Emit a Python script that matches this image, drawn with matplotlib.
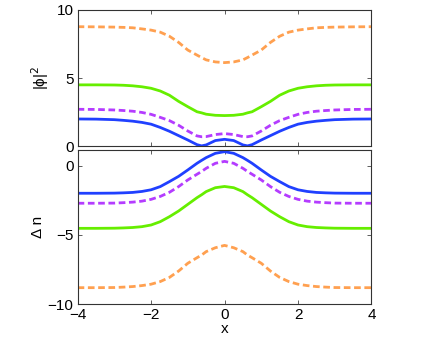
import numpy as np
import matplotlib
matplotlib.use("Agg")
import matplotlib.pyplot as plt

plt.rcParams['font.family'] = ['Liberation Sans', 'DejaVu Sans']

# sample positions
x = [-4, -3.5, -3, -2.75, -2.5, -2.25, -2, -1.75, -1.5, -1.25, -1, -0.75, -0.625, -0.5, -0.25, 0,
     0.25, 0.5, 0.625, 0.75, 1, 1.25, 1.5, 1.75, 2, 2.25, 2.5, 2.75, 3, 3.5, 4]

# |phi|^2 (top panel)
top_blue = [2.0, 1.99, 1.95, 1.90, 1.84, 1.75, 1.62, 1.38, 1.10, 0.78, 0.46, 0.12, 0.03, 0.10, 0.42, 0.51,
            0.42, 0.10, 0.03, 0.12, 0.46, 0.78, 1.10, 1.38, 1.62, 1.75, 1.84, 1.90, 1.95, 1.99, 2.0]
top_purple = [2.71, 2.70, 2.66, 2.62, 2.57, 2.48, 2.34, 2.12, 1.88, 1.54, 1.12, 0.76, 0.70, 0.71, 0.86, 0.93,
              0.86, 0.71, 0.70, 0.76, 1.12, 1.54, 1.88, 2.12, 2.34, 2.48, 2.57, 2.62, 2.66, 2.70, 2.71]
top_green = [4.5, 4.5, 4.49, 4.47, 4.43, 4.36, 4.25, 4.05, 3.74, 3.29, 2.90, 2.53, 2.45, 2.35, 2.27, 2.25,
             2.27, 2.35, 2.45, 2.53, 2.90, 3.29, 3.74, 4.05, 4.25, 4.36, 4.43, 4.47, 4.49, 4.5, 4.5]
top_orange = [8.76, 8.75, 8.73, 8.71, 8.68, 8.60, 8.51, 8.36, 8.06, 7.61, 7.05, 6.68, 6.50, 6.33, 6.18, 6.13,
              6.18, 6.33, 6.50, 6.68, 7.05, 7.61, 8.06, 8.36, 8.51, 8.60, 8.68, 8.71, 8.73, 8.75, 8.76]

# Delta n (bottom panel)
bot_blue = [-1.99, -1.99, -1.98, -1.96, -1.93, -1.86, -1.74, -1.51, -1.15, -0.77, -0.31, 0.17, 0.38, 0.58, 0.89, 1.01,
            0.89, 0.58, 0.38, 0.17, -0.31, -0.77, -1.15, -1.51, -1.74, -1.86, -1.93, -1.96, -1.98, -1.99, -1.99]
bot_purple = [-2.71, -2.71, -2.70, -2.67, -2.63, -2.56, -2.43, -2.22, -1.92, -1.51, -1.03, -0.62, -0.42, -0.19, 0.17, 0.31,
              0.17, -0.19, -0.42, -0.62, -1.03, -1.51, -1.92, -2.22, -2.43, -2.56, -2.63, -2.67, -2.70, -2.71, -2.71]
bot_green = [-4.52, -4.52, -4.51, -4.49, -4.46, -4.40, -4.28, -4.04, -3.68, -3.27, -2.79, -2.31, -2.10, -1.87, -1.59, -1.50,
             -1.59, -1.87, -2.10, -2.31, -2.79, -3.27, -3.68, -4.04, -4.28, -4.40, -4.46, -4.49, -4.51, -4.52, -4.52]
bot_orange = [-8.80, -8.80, -8.79, -8.76, -8.72, -8.65, -8.55, -8.36, -8.06, -7.60, -7.04, -6.64, -6.45, -6.20, -5.92, -5.75,
              -5.92, -6.20, -6.45, -6.64, -7.04, -7.60, -8.06, -8.36, -8.55, -8.65, -8.72, -8.76, -8.79, -8.80, -8.80]

xticks = [-4, -2, 0, 2, 4]
xticklabels = ["\u22124", "\u22122", "0", "2", "4"]
top_yticks = [0, 5, 10]
bot_yticks = [-10, -5, 0]
bot_yticklabels = ["\u221210", "\u22125", "0"]

c_blue = "#2040ff"
c_purple = "#b43cff"
c_green = "#66ee00"
c_orange = "#ffa050"
lw = 2.0
dash = (0, (2.4, 1.3))

fig = plt.figure(figsize=(4.36, 3.43), dpi=100)
ax1 = fig.add_axes([0.178, 0.5735, 0.674, 0.398])
ax2 = fig.add_axes([0.178, 0.1128, 0.674, 0.4507])

ax1.plot(x, top_orange, color=c_orange, lw=lw, linestyle=dash)
ax1.plot(x, top_green, color=c_green, lw=lw)
ax1.plot(x, top_purple, color=c_purple, lw=lw, linestyle=dash)
ax1.plot(x, top_blue, color=c_blue, lw=lw)

ax2.plot(x, bot_orange, color=c_orange, lw=lw, linestyle=dash)
ax2.plot(x, bot_green, color=c_green, lw=lw)
ax2.plot(x, bot_purple, color=c_purple, lw=lw, linestyle=dash)
ax2.plot(x, bot_blue, color=c_blue, lw=lw)

for ax in (ax1, ax2):
    ax.set_xlim(-4, 4)
    ax.set_xticks(xticks)
    ax.tick_params(direction="in", length=3, width=0.6, colors="#444444",
                   labelcolor="black", labelsize=11, top=True, right=True, pad=3)
    for s in ax.spines.values():
        s.set_color("#333333")
        s.set_linewidth(0.8)

ax1.set_ylim(0, 10)
ax1.set_yticks(top_yticks)
ax1.set_xticklabels([])
ax1.set_ylabel("|\u03d5|$^2$", fontsize=11, labelpad=4)

ax2.set_ylim(-10, 1.15)
ax2.set_yticks(bot_yticks)
ax2.set_yticklabels(bot_yticklabels)
ax2.set_xticklabels(xticklabels)
ax2.set_ylabel("\u0394 n", fontsize=11, labelpad=2)
ax2.set_xlabel("x", fontsize=11, labelpad=0)

fig.savefig("out.png", dpi=100)
